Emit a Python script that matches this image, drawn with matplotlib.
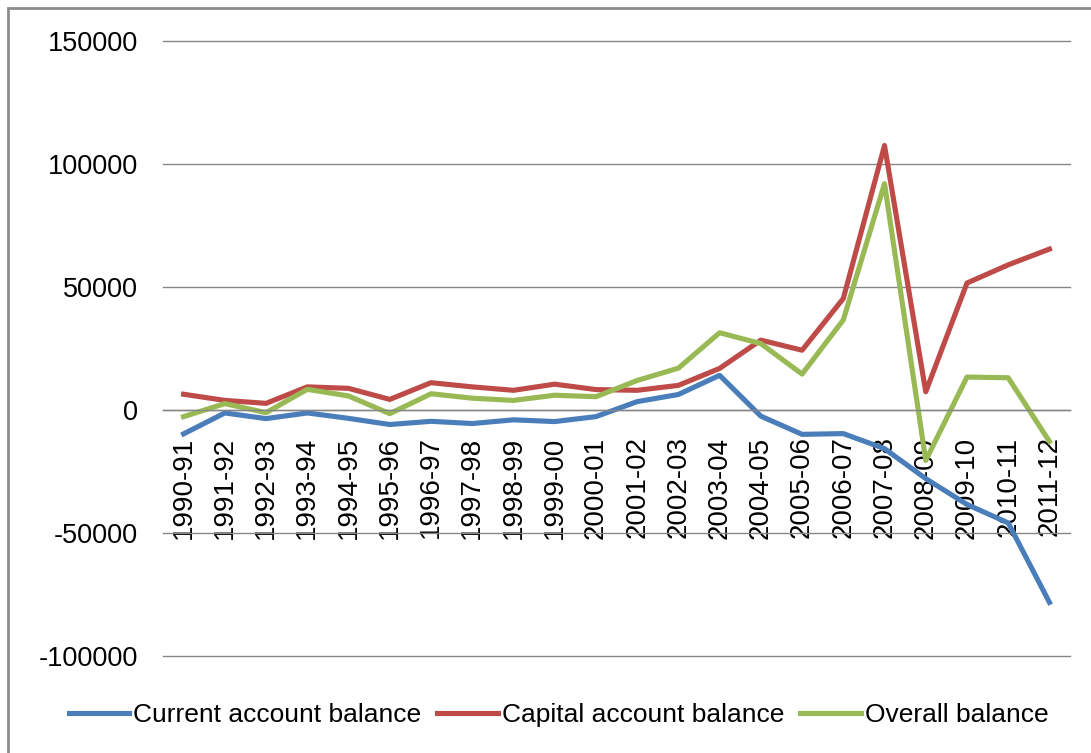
import matplotlib.pyplot as plt
from matplotlib.patches import Rectangle

years = ['1990-91', '1991-92', '1992-93', '1993-94', '1994-95', '1995-96',
         '1996-97', '1997-98', '1998-99', '1999-00', '2000-01', '2001-02',
         '2002-03', '2003-04', '2004-05', '2005-06', '2006-07', '2007-08',
         '2008-09', '2009-10', '2010-11', '2011-12']

current_account = [-9700, -1200, -3500, -1200, -3400, -5900, -4600, -5500,
                   -4000, -4700, -2700, 3400, 6300, 14100, -2500, -9900,
                   -9600, -15700, -27900, -38400, -45900, -78200]
capital_account = [6400, 3900, 2700, 9400, 8800, 4300, 11100, 9400,
                   8000, 10500, 8300, 8000, 10000, 16900, 28400, 24300,
                   45300, 107500, 7400, 51600, 59000, 65400]
overall_balance = [-2700, 2600, -1100, 8400, 5700, -1500, 6600, 4800,
                   3900, 6000, 5400, 12000, 17000, 31400, 27000, 14600,
                   36600, 92000, -20500, 13400, 13100, -12800]

blue = '#4A7EBB'
red = '#BE4B48'
green = '#98B954'

plt.rcParams['axes.unicode_minus'] = False
plt.rcParams['font.family'] = 'Liberation Sans'

fig = plt.figure(figsize=(10.91, 7.53), dpi=100)
ax = fig.add_axes([0.1494, 0.1288, 0.8314, 0.8168])

# chart border (only top and left edges show in the crop)
fig.patches.append(Rectangle((8 / 1091, -0.2), 1.2, 1.2 - 8 / 753,
                             transform=fig.transFigure, fill=False,
                             edgecolor='#8c8c8c', linewidth=2))

x = list(range(len(years)))
ax.plot(x, current_account, color=blue, lw=3.7, label='Current account balance')
ax.plot(x, capital_account, color=red, lw=3.7, label='Capital account balance')
ax.plot(x, overall_balance, color=green, lw=3.7, label='Overall balance')

ax.set_xlim(-0.5, len(years) - 0.5)
ax.set_ylim(-100000, 150000)
ax.set_yticks([-100000, -50000, 0, 50000, 100000, 150000])
ax.yaxis.grid(True, color='#868686', linewidth=1)
for gl in ax.get_ygridlines():
    gl.set_clip_on(False)
ax.set_axisbelow(True)

for s in ['left', 'right', 'top']:
    ax.spines[s].set_visible(False)
ax.spines['bottom'].set_position(('data', 0))
ax.spines['bottom'].set_color('#868686')
ax.spines['bottom'].set_linewidth(1)

ax.set_xticks(x)
ax.set_xticklabels(years, rotation=90, fontsize=20)
ax.tick_params(axis='x', length=0, pad=19)
ax.tick_params(axis='y', length=0, pad=18, labelsize=19.5)

fig.legend(loc='center', bbox_to_anchor=(0.512, 0.0505), ncol=3, frameon=False,
           fontsize=19, handlelength=2.3, handletextpad=0.15, columnspacing=0.6)

fig.savefig('out.png', dpi=100)
